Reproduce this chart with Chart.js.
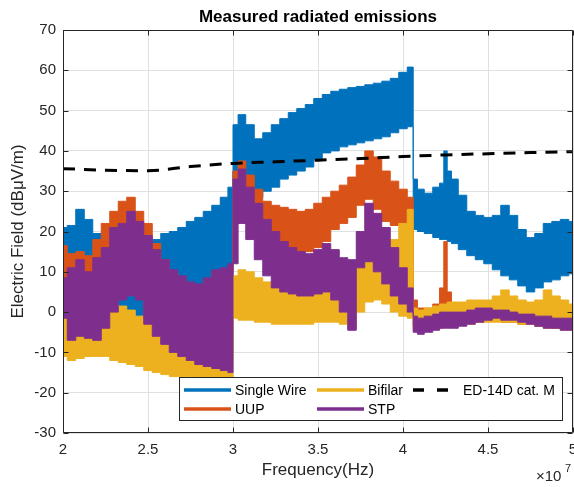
<!DOCTYPE html>
<html lang="en">

<head>
    <meta charset="UTF-8" />
    <title>Measured radiated emissions</title>
    <script src="https://cdn.jsdelivr.net/npm/chart.js"></script>
    <style>
        html,
        body {
            margin: 0;
            padding: 0;
            background: #fff;
        }

        #wrap {
            width: 574px;
            height: 487px;
        }
    </style>
</head>

<body>

    <div id="wrap"><canvas id="grafico" width="574" height="487"></canvas></div>

    <script>
        // frequency grid in MHz (axis labels are in units of 1e7 Hz)
        const freqMHz = [
            20, 20.5, 21, 21.5, 22, 22.5, 23, 23.5, 24, 24.5,
            25, 25.5, 26, 26.5, 27, 27.5, 28, 28.5, 29, 29.5,
            29.9, 30.1, 30.5, 31, 31.5, 32, 32.5, 33, 33.5, 34,
            34.5, 35, 35.5, 36, 36.5, 37, 37.5, 38, 38.5, 39,
            39.5, 40, 40.5, 40.7, 41, 41.5, 42, 42.3, 42.5, 42.7,
            43, 43.5, 44, 44.5, 45, 45.5, 46, 46.5, 47, 47.5,
            48, 48.5, 49, 49.5, 50
        ];

        // max / min of each measured trace over every frequency bin (dBuV/m)
        const singleWireMax = [
            21, 21.5, 25.5, 23, 19.5, 18, 17, 16, 15, 15,
            16, 18, 19.5, 20, 21, 22.5, 23.5, 25, 26.5, 28.5,
            31, 46.5, 49, 46.5, 43, 44.5, 46.5, 48, 49.5, 50.5,
            51.5, 53, 54, 54.8, 55.3, 55.7, 56, 56.4, 56.8, 57.3,
            58, 59.5, 60.8, 33, 30.5, 29.5, 31, 32, 40, 35,
            33, 29, 25, 24, 23.5, 24, 26.5, 24, 20.5, 18.5,
            19.5, 22, 22.5, 23, 22.5
        ];
        const singleWireMin = [
            11, 10, 8, 6, 4, 2, 1, 0, -1, -1,
            0, 2, 2.5, 2, 3, 3.5, 4, 5, 7, 9,
            10, 35, 34, 31, 28.5, 30, 31, 33, 34, 35,
            36, 38, 39.5, 40, 41, 41.5, 42, 42.5, 43, 43.5,
            44.5, 45.5, 46, 20.5, 20, 19.5, 18.5, 18, 18, 17.5,
            17, 15.5, 14, 13, 12, 10.5, 9, 8, 6.5, 5,
            6, 7.5, 8, 9, 9.5
        ];

        const uupMax = [
            16.5, 14.5, 15, 14, 18, 22, 25, 27.5, 28.5, 25,
            22, 17, 13, 10, 8, 6, 5, 8, 10, 7,
            8, 35, 37.5, 34, 30.5, 27.5, 26.5, 26, 25.5, 25,
            25.5, 27, 28.5, 30, 31.5, 33.5, 36.5, 40, 38.5, 35,
            32.5, 30.5, 28.5, 3, 1, 1, 2, 6, 17.5, 5,
            2, 1.5, 1.5, 1.5, 1.5, 1, 1, 0.5, 0.5, 0,
            0, 0, 0, -0.5, -0.5
        ];
        const uupMin = [
            -3, -4, -4, -4, -4, -2, 4, 6, 6, 5,
            -2, -3, -3, -2, -1, 0, 0, 1, 1, 0,
            0, 22, 25, 22, 19, 17, 15.5, 15, 14.5, 14.5,
            15, 16, 17.5, 20.5, 22, 23.5, 26.5, 28, 25.5, 22.5,
            21.5, 21.5, 21, -3.5, -3.5, -3.5, -3, -3, -3, -3,
            -3, -3, -2.5, -2.5, -2, -2, -2.5, -2.5, -3, -3,
            -3.5, -3.5, -4, -4, -4
        ];

        const bifilarMax = [
            -1.5, -3, -4, -4, -3, 0, 2, 1.5, 0.5, -1,
            -2, -4, -6, -8, -9, -10, -11, -11, -12, -12,
            -12, 9, 10.5, 10, 8.5, 7.5, 7, 6.5, 6, 6,
            6, 6, 6.5, 6, 5.5, 4, 11, 13.5, 13, 14,
            18, 22, 25.5, 1, 0.5, 1, 1.5, 2, 2, 2.5,
            2.5, 2.5, 3, 3, 3, 4, 5.5, 4, 3, 2.5,
            3, 5.5, 4, 3, 2
        ];
        const bifilarMin = [
            -11, -12, -11.5, -11, -11, -11, -12, -12.5, -13, -13.5,
            -14.5, -15, -15.5, -16, -16, -16, -16.5, -16.5, -16.5, -16.5,
            -17, -1.5, -2, -2, -2.5, -2.5, -3, -3, -3, -3,
            -3, -2.5, -2.5, -2.5, -3, -4, 0, 2.5, 3, 2,
            0, -1, -1.5, -4.5, -4.5, -4, -4, -4, -3.5, -3.5,
            -3.5, -3, -3, -2.5, -2.5, -2.5, -2.5, -2.5, -3, -3,
            -3.5, -4, -4, -4.5, -4.5
        ];

        const stpMax = [
            8.5, 11, 13, 10, 13.5, 16, 21, 22, 25, 22.5,
            19, 15.5, 13, 10.5, 9, 7.5, 7, 8.5, 10.5, 11,
            12, 33, 35.5, 31, 27, 23, 20, 17.5, 16, 15,
            14.5, 15.5, 17, 15.5, 13.5, 13, 20, 27, 24.5, 21,
            16, 11, 6, -1, -1.5, -1, -0.5, 0, 0, 0,
            0, 0, 0.5, 1, 1, 0.5, 0.5, 0, -0.5, -0.5,
            -1, -1, -1.5, -1.5, -1.5
        ];
        const stpMin = [
            -1.5, -7, -6, -6.5, -7, -4, 0, 3, 4, 3,
            -3, -6, -8, -10, -11, -12, -13, -13.5, -14, -14.5,
            -15, 12, 22, 18, 13, 9, 6, 5, 4.5, 4,
            4, 4.5, 5, 3, 0, -4.5, 11, 12.5, 10, 7,
            4, 2, 0, -5, -5.5, -5, -4.5, -4, -4, -4,
            -4, -3.5, -3, -2.5, -2, -1.5, -2, -2, -2.5, -3,
            -3.5, -4, -4, -4.5, -4.5
        ];

        // ED-14D category M limit
        const limitFreqMHz = [20, 22.5, 25, 27.5, 30, 32.5, 35, 37.5, 40, 42.5, 45, 47.5, 50];
        const limitValues = [35.6, 35.2, 35.1, 36.1, 36.9, 37.3, 37.7, 38.1, 38.6, 39.0, 39.3, 39.6, 39.8];

        const seriesNames = ['Single Wire', 'UUP', 'Bifilar', 'STP'];
        const limitName = 'ED-14D cat. M';

        const xTickValues = [20, 25, 30, 35, 40, 45, 50];
        const xTickLabels = ['2', '2.5', '3', '3.5', '4', '4.5', '5'];
        const yTickValues = [-30, -20, -10, 0, 10, 20, 30, 40, 50, 60, 70];

        const colores = ['#0072BD', '#D95319', '#EDB120', '#7E2F8E'];
        const FUENTE = "'Liberation Sans', Arial, Helvetica, sans-serif";
        const EJE = '#262626';

        const maximos = [singleWireMax, uupMax, bifilarMax, stpMax];
        const minimos = [singleWireMin, uupMin, bifilarMin, stpMin];

        function aPuntos(xs, ys) {
            return xs.map((x, i) => ({ x: x, y: ys[i] }));
        }

        // each trace is a band between its max and min curves;
        // later traces are drawn above the earlier ones
        const datasets = [];
        seriesNames.forEach((nombre, i) => {
            const orden = seriesNames.length - i;
            datasets.push({
                label: nombre,
                data: aPuntos(freqMHz, maximos[i]),
                borderColor: colores[i],
                backgroundColor: colores[i],
                borderWidth: 1,
                pointRadius: 0,
                stepped: 'middle',
                fill: '+1',
                order: orden
            });
            datasets.push({
                label: nombre + ' min',
                data: aPuntos(freqMHz, minimos[i]),
                borderColor: colores[i],
                backgroundColor: colores[i],
                borderWidth: 1,
                pointRadius: 0,
                stepped: 'middle',
                fill: false,
                order: orden
            });
        });
        datasets.push({
            label: limitName,
            data: aPuntos(limitFreqMHz, limitValues),
            borderColor: '#000',
            borderWidth: 3,
            borderDash: [12, 9],
            pointRadius: 0,
            cubicInterpolationMode: 'monotone',
            fill: false,
            order: 0
        });

        // axes frame with inward ticks on all four sides
        const marco = {
            id: 'marco',
            afterDatasetsDraw(chart) {
                const { ctx, chartArea: a, scales: { x, y } } = chart;
                const l = Math.round(a.left) + 0.5, r = Math.round(a.right) - 0.5;
                const t = Math.round(a.top) + 0.5, b = Math.round(a.bottom) - 0.5;
                ctx.save();
                ctx.strokeStyle = EJE;
                ctx.lineWidth = 1;
                ctx.beginPath();
                ctx.rect(l, t, r - l, b - t);
                xTickValues.forEach(v => {
                    const px = Math.round(x.getPixelForValue(v)) + 0.5;
                    ctx.moveTo(px, b); ctx.lineTo(px, b - 5);
                    ctx.moveTo(px, t); ctx.lineTo(px, t + 5);
                });
                yTickValues.forEach(v => {
                    const py = Math.round(y.getPixelForValue(v)) + 0.5;
                    ctx.moveTo(l, py); ctx.lineTo(l + 5, py);
                    ctx.moveTo(r, py); ctx.lineTo(r - 5, py);
                });
                ctx.stroke();
                ctx.restore();
            }
        };

        // title, exponent note and boxed legend
        const rotulos = {
            id: 'rotulos',
            afterDraw(chart) {
                const { ctx, chartArea: a } = chart;
                ctx.save();

                ctx.fillStyle = '#000';
                ctx.font = 'bold 17px ' + FUENTE;
                ctx.textAlign = 'center';
                ctx.textBaseline = 'middle';
                ctx.fillText('Measured radiated emissions', (a.left + a.right) / 2, 17);

                ctx.fillStyle = EJE;
                ctx.textAlign = 'left';
                ctx.textBaseline = 'alphabetic';
                ctx.font = '15px ' + FUENTE;
                ctx.fillText('\u00d710', 536, 481);
                ctx.font = '11px ' + FUENTE;
                ctx.fillText('7', 565, 472);

                // legend box
                const bx = 179.5, by = 377.5, bw = 383, bh = 43;
                ctx.fillStyle = '#fff';
                ctx.fillRect(bx, by, bw, bh);
                ctx.strokeStyle = EJE;
                ctx.lineWidth = 1;
                ctx.strokeRect(bx, by, bw, bh);

                const entradas = [
                    { texto: seriesNames[0], color: colores[0], x: 184, y: 390 },
                    { texto: seriesNames[1], color: colores[1], x: 184, y: 409 },
                    { texto: seriesNames[2], color: colores[2], x: 317, y: 390 },
                    { texto: seriesNames[3], color: colores[3], x: 317, y: 409 }
                ];
                ctx.font = '14px ' + FUENTE;
                ctx.textBaseline = 'middle';
                entradas.forEach(e => {
                    ctx.strokeStyle = e.color;
                    ctx.lineWidth = 3.5;
                    ctx.beginPath();
                    ctx.moveTo(e.x, e.y);
                    ctx.lineTo(e.x + 47, e.y);
                    ctx.stroke();
                    ctx.fillStyle = '#000';
                    ctx.fillText(e.texto, e.x + 51, e.y + 1);
                });
                ctx.strokeStyle = '#000';
                ctx.lineWidth = 3.5;
                ctx.setLineDash([11, 13]);
                ctx.beginPath();
                ctx.moveTo(413, 390);
                ctx.lineTo(448, 390);
                ctx.stroke();
                ctx.setLineDash([]);
                ctx.fillStyle = '#000';
                ctx.fillText(limitName, 463, 391);

                ctx.restore();
            }
        };

        const grafico = new Chart(document.getElementById('grafico'), {
            type: 'line',
            data: { datasets: datasets },
            options: {
                responsive: false,
                animation: false,
                layout: { padding: { top: 30, right: 1, left: 0, bottom: 0 } },
                plugins: {
                    legend: { display: false },
                    title: { display: false },
                    tooltip: { enabled: false }
                },
                scales: {
                    x: {
                        type: 'linear',
                        min: 20,
                        max: 50,
                        afterBuildTicks: s => { s.ticks = xTickValues.map(v => ({ value: v })); },
                        afterFit: s => { s.height = 54; s.paddingLeft = 0; s.paddingRight = 0; },
                        ticks: {
                            callback: v => xTickLabels[xTickValues.indexOf(v)],
                            autoSkip: false,
                            maxRotation: 0,
                            color: EJE,
                            padding: 8,
                            font: { family: FUENTE, size: 15 }
                        },
                        grid: { color: '#e0e0e0', drawTicks: false },
                        border: { display: false },
                        title: {
                            display: true,
                            text: 'Frequency(Hz)',
                            color: EJE,
                            font: { family: FUENTE, size: 17 },
                            padding: { top: 0, bottom: 6 }
                        }
                    },
                    y: {
                        min: -30,
                        max: 70,
                        afterBuildTicks: s => { s.ticks = yTickValues.map(v => ({ value: v })); },
                        afterFit: s => { s.width = 63; },
                        ticks: {
                            color: EJE,
                            padding: 7,
                            font: { family: FUENTE, size: 15 }
                        },
                        grid: { color: '#e0e0e0', drawTicks: false },
                        border: { display: false },
                        title: {
                            display: true,
                            text: 'Electric Field (dB\u03bcV/m)',
                            color: EJE,
                            font: { family: FUENTE, size: 17 },
                            padding: { top: 8, bottom: 0 }
                        }
                    }
                }
            },
            plugins: [marco, rotulos]
        });
    </script>

</body>

</html>
